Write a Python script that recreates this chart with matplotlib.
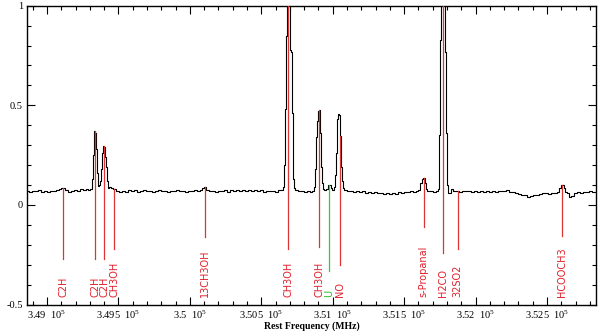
import matplotlib
matplotlib.use("Agg")
import matplotlib.pyplot as plt
from matplotlib.ticker import MultipleLocator, FixedLocator, FuncFormatter

# ---------------- data ----------------
freq = [348860, 348881, 348902, 348923, 348944, 348965, 348986, 349007, 349028, 349049,
        349070, 349091, 349105, 349119, 349133, 349154, 349175, 349196, 349217, 349238,
        349259, 349280, 349294, 349308, 349315, 349322, 349329, 349336, 349343, 349350,
        349357, 349364, 349371, 349378, 349385, 349392, 349399, 349406, 349413, 349420,
        349427, 349441, 349455, 349469, 349490, 349511, 349532, 349553, 349574, 349595,
        349616, 349637, 349658, 349679, 349700, 349721, 349742, 349763, 349784, 349805,
        349826, 349847, 349868, 349889, 349910, 349931, 349952, 349973, 349994, 350015,
        350036, 350057, 350078, 350092, 350106, 350120, 350141, 350162, 350183, 350204,
        350225, 350246, 350267, 350288, 350309, 350330, 350351, 350372, 350393, 350414,
        350435, 350456, 350477, 350498, 350519, 350540, 350561, 350582, 350603, 350624,
        350645, 350652, 350659, 350666, 350673, 350680, 350694, 350701, 350708, 350715,
        350722, 350729, 350743, 350764, 350785, 350806, 350827, 350848, 350862, 350869,
        350876, 350883, 350890, 350897, 350904, 350911, 350918, 350925, 350932, 350946,
        350960, 350974, 350981, 350988, 351002, 351009, 351016, 351023, 351030, 351037,
        351044, 351051, 351058, 351065, 351072, 351086, 351107, 351128, 351149, 351170,
        351191, 351212, 351233, 351254, 351275, 351296, 351317, 351338, 351359, 351380,
        351401, 351422, 351443, 351464, 351485, 351506, 351527, 351548, 351569, 351590,
        351604, 351618, 351625, 351639, 351646, 351653, 351667, 351688, 351709, 351730,
        351737, 351744, 351751, 351758, 351779, 351786, 351793, 351800, 351807, 351821,
        351835, 351849, 351870, 351891, 351912, 351933, 351954, 351975, 351996, 352017,
        352038, 352059, 352080, 352101, 352122, 352143, 352164, 352185, 352206, 352220,
        352241, 352262, 352283, 352304, 352325, 352346, 352367, 352388, 352409, 352430,
        352451, 352472, 352493, 352514, 352535, 352556, 352577, 352591, 352598, 352612,
        352619, 352633, 352647, 352661, 352675, 352696, 352717, 352738, 352759, 352780,
        352801, 352822, 352843]

intensity = [0.070, 0.066, 0.072, 0.068, 0.074, 0.067, 0.071, 0.065, 0.072, 0.068,
             0.073, 0.078, 0.086, 0.085, 0.074, 0.066, 0.070, 0.075, 0.071, 0.079,
             0.074, 0.080, 0.076, 0.082, 0.130, 0.250, 0.370, 0.360, 0.280, 0.160,
             0.095, 0.100, 0.120, 0.180, 0.260, 0.295, 0.290, 0.240, 0.190, 0.120,
             0.085, 0.090, 0.084, 0.078, 0.070, 0.066, 0.072, 0.067, 0.074, 0.069,
             0.073, 0.066, 0.071, 0.075, 0.069, 0.072, 0.067, 0.070, 0.074, 0.068,
             0.071, 0.066, 0.072, 0.069, 0.073, 0.068, 0.071, 0.067, 0.072, 0.070,
             0.074, 0.069, 0.073, 0.085, 0.088, 0.076, 0.068, 0.072, 0.066, 0.071,
             0.068, 0.073, 0.067, 0.074, 0.070, 0.076, 0.071, 0.077, 0.070, 0.075,
             0.068, 0.074, 0.069, 0.073, 0.067, 0.072, 0.068, 0.071, 0.066, 0.073,
             0.076, 0.090, 0.200, 0.480, 0.850, 1.100, 1.100, 0.780, 0.770, 0.460,
             0.130, 0.085, 0.075, 0.068, 0.072, 0.065, 0.070, 0.066, 0.072, 0.090,
             0.180, 0.340, 0.420, 0.470, 0.475, 0.360, 0.190, 0.110, 0.078, 0.074,
             0.080, 0.100, 0.098, 0.085, 0.075, 0.090, 0.150, 0.260, 0.430, 0.455,
             0.450, 0.345, 0.190, 0.120, 0.086, 0.075, 0.068, 0.072, 0.066, 0.070,
             0.064, 0.068, 0.062, 0.066, 0.060, 0.064, 0.058, 0.062, 0.055, 0.060,
             0.054, 0.060, 0.057, 0.063, 0.060, 0.066, 0.063, 0.068, 0.065, 0.070,
             0.075, 0.110, 0.130, 0.135, 0.110, 0.080, 0.068, 0.072, 0.066, 0.070,
             0.080, 0.350, 0.830, 1.100, 1.100, 0.770, 0.360, 0.100, 0.060, 0.062,
             0.080, 0.072, 0.070, 0.066, 0.071, 0.068, 0.072, 0.067, 0.070, 0.065,
             0.069, 0.066, 0.071, 0.067, 0.070, 0.066, 0.069, 0.068, 0.072, 0.076,
             0.066, 0.063, 0.060, 0.057, 0.052, 0.048, 0.040, 0.045, 0.052, 0.052,
             0.056, 0.058, 0.060, 0.057, 0.062, 0.060, 0.064, 0.085, 0.100, 0.100,
             0.085, 0.065, 0.060, 0.038, 0.045, 0.060, 0.066, 0.062, 0.067, 0.063,
             0.068, 0.064, 0.066]

# line identifications
line_names = ["C2H", "C2H", "C2H", "CH3OH", "13CH3OH", "CH3OH", "CH3OH", "U",
              "NO", "s-Propanal", "H2CO", "32SO2", "HCOOCH3"]
line_freq = [349115, 349338, 349399, 349471, 350103, 350688, 350905, 350977,
             351052, 351636, 351769, 351874, 352605]
line_top = [0.086, 0.37, 0.295, 0.078, 0.088, 1.1, 0.475, 0.10,
            0.345, 0.135, 1.1, 0.070, 0.10]
line_bottom = [-0.27, -0.27, -0.27, -0.22, -0.16, -0.22, -0.21, -0.33,
               -0.30, -0.11, -0.24, -0.22, -0.155]

x_major = [349000, 349500, 350000, 350500, 351000, 351500, 352000, 352500]
x_major_text = ["3.49", "3.495", "3.5", "3.505", "3.51", "3.515", "3.52", "3.525"]
y_major = [-0.5, 0, 0.5, 1]
y_major_text = ["-0.5", "0", "0.5", "1"]

# ---------------- plot ----------------
plt.rcParams['mathtext.fontset'] = 'custom'
plt.rcParams['mathtext.rm'] = 'Liberation Serif'
plt.rcParams['mathtext.it'] = 'Liberation Serif:italic'
plt.rcParams['mathtext.bf'] = 'Liberation Serif:bold'

fig = plt.figure(figsize=(6.0, 3.31), dpi=100)
ax = fig.add_axes([27 / 600, 1 - 304.5 / 331, (596 - 27) / 600, (304.5 - 5.7) / 331])

ax.plot(freq, intensity, color="black", lw=0.8, drawstyle="steps-mid", zorder=2)

red = "#dd3535"
green = "#33cc33"
for name, f, top, bot in zip(line_names, line_freq, line_top, line_bottom):
    c = green if name == "U" else red
    ax.plot([f, f], [bot, top], color=c, lw=0.9, zorder=3)
    ax.text(f, -0.463, name, rotation=90, ha="center", va="bottom",
            color=("#22bb22" if name == "U" else "#e0202a"),
            fontsize=7, family="DejaVu Sans")

ax.set_xlim(348860, 352843)
ax.set_ylim(-0.5, 1.0)

ax.xaxis.set_major_locator(FixedLocator(x_major))
ax.xaxis.set_minor_locator(MultipleLocator(100))
ax.yaxis.set_major_locator(FixedLocator(y_major))
ax.yaxis.set_minor_locator(MultipleLocator(0.1))
xlab = dict(zip(x_major, x_major_text))
ax.xaxis.set_major_formatter(FuncFormatter(
    lambda v, p: xlab.get(int(round(v)), "") + r"  $\mathregular{10^5}$"))
ylab = dict(zip(y_major, y_major_text))
ax.yaxis.set_major_formatter(FuncFormatter(
    lambda v, p: ylab.get(round(v, 2), "")))

ax.tick_params(which="both", direction="in", top=True, right=True,
               labelsize=7.5, width=0.8, colors="black")
ax.tick_params(which="major", length=6, pad=3)
ax.tick_params(which="minor", length=3)
for lab in ax.get_xticklabels() + ax.get_yticklabels():
    lab.set_family("Liberation Serif")
for s in ax.spines.values():
    s.set_linewidth(1.0)

ax.set_xlabel("Rest Frequency (MHz)", family="Liberation Serif", weight="bold",
              fontsize=7, labelpad=0)

fig.savefig("out.png", dpi=100)
